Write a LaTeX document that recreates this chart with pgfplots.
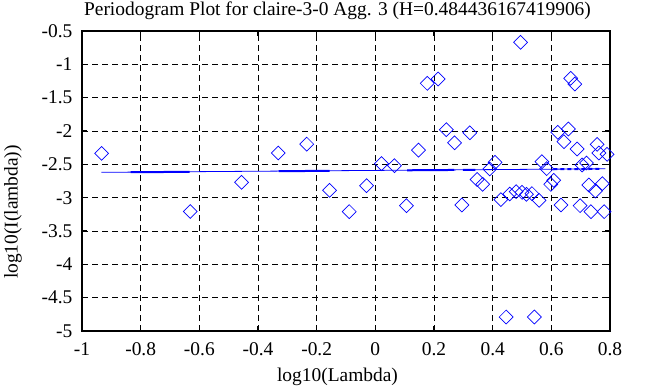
\documentclass[border=0pt]{standalone}
\usepackage{fontspec}
\setmainfont{Liberation Serif}
\usepackage{pgfplots}
\pgfplotsset{compat=1.18}
\begin{document}
\fontsize{19.5}{23}\selectfont
\begin{tikzpicture}[x=1bp,y=1bp]
\useasboundingbox (0,0) rectangle (653,387);
\begin{axis}[
  at={(82bp,56bp)}, anchor=south west,
  scale only axis, width=528bp, height=300bp,
  xmin=-1, xmax=0.8, ymin=-5, ymax=-0.5,
  xtick={-1,-0.8,-0.6,-0.4,-0.2,0,0.2,0.4,0.6,0.8},
  xticklabels={-1,-0.8,-0.6,-0.4,-0.2,0,0.2,0.4,0.6,0.8},
  ytick={-5,-4.5,-4,-3.5,-3,-2.5,-2,-1.5,-1,-0.5},
  yticklabels={-5,-4.5,-4,-3.5,-3,-2.5,-2,-1.5,-1,-0.5},
  grid=major,
  major grid style={black, line width=0.8bp, dash pattern=on 6bp off 4bp},
  tick align=inside, tick pos=both, major tick length=5bp,
  axis line style={black, line width=1.6bp},
  tick style={black, line width=1.4bp},
  xticklabel style={font=\fontsize{19.5}{23}\selectfont, yshift=-5bp},
  yticklabel style={font=\fontsize{19.5}{23}\selectfont, xshift=-3bp},
]
\addplot[blue, line width=0.8bp] coordinates {(-0.934,-2.620) (0.784,-2.567)};
\addplot[blue, line width=2bp] coordinates {(-0.834,-2.6185) (-0.633,-2.6122)};
\addplot[blue, line width=2bp] coordinates {(-0.33,-2.6028) (-0.156,-2.5974)};
\addplot[blue, line width=2bp] coordinates {(0.108,-2.5893) (0.269,-2.5843)};
\addplot[blue, line width=2bp] coordinates {(0.298,-2.5834) (0.341,-2.5820)};
\addplot[blue, line width=2bp, dash pattern=on 4bp off 3bp] coordinates {(0.607,-2.5738) (0.767,-2.5688)};
\addplot[only marks, mark=square, mark size=4.9bp,
  mark options={rotate=45, draw=blue, fill=none, line width=0.7bp}] coordinates {
(-0.933,-2.336) (-0.631,-3.207) (-0.456,-2.77) (-0.331,-2.33) (-0.234,-2.197)
(-0.156,-2.89) (-0.089,-3.21) (-0.030,-2.82) (0.021,-2.49) (0.065,-2.52)
(0.106,-3.12) (0.147,-2.287) (0.177,-1.285) (0.214,-1.22) (0.242,-1.98)
(0.27,-2.177) (0.295,-3.11) (0.322,-2.027) (0.347,-2.727) (0.366,-2.8)
(0.390,-2.57) (0.408,-2.47) (0.428,-3.03) (0.446,-4.79) (0.458,-2.945)
(0.48,-2.91) (0.495,-0.67) (0.5,-2.92) (0.515,-2.95) (0.534,-2.94)
(0.542,-4.79) (0.558,-3.04) (0.568,-2.46) (0.584,-2.565) (0.598,-2.8)
(0.608,-2.74) (0.622,-2.02) (0.633,-3.11) (0.643,-2.16) (0.658,-1.97)
(0.666,-1.21) (0.68,-1.296) (0.688,-2.27) (0.698,-3.12) (0.705,-2.51)
(0.72,-2.48) (0.728,-2.81) (0.735,-3.21) (0.75,-2.9) (0.756,-2.2)
(0.762,-2.33) (0.774,-2.79) (0.78,-3.21) (0.79,-2.35)
};
\end{axis}
\node at (337.5,376) {Periodogram Plot for claire-3-0 Agg. 3 (H=0.484436167419906)};
\node at (337.5,10) {log10(Lambda)};
\node[rotate=90] at (13,175) {log10(I(lambda))};
\end{tikzpicture}
\end{document}
